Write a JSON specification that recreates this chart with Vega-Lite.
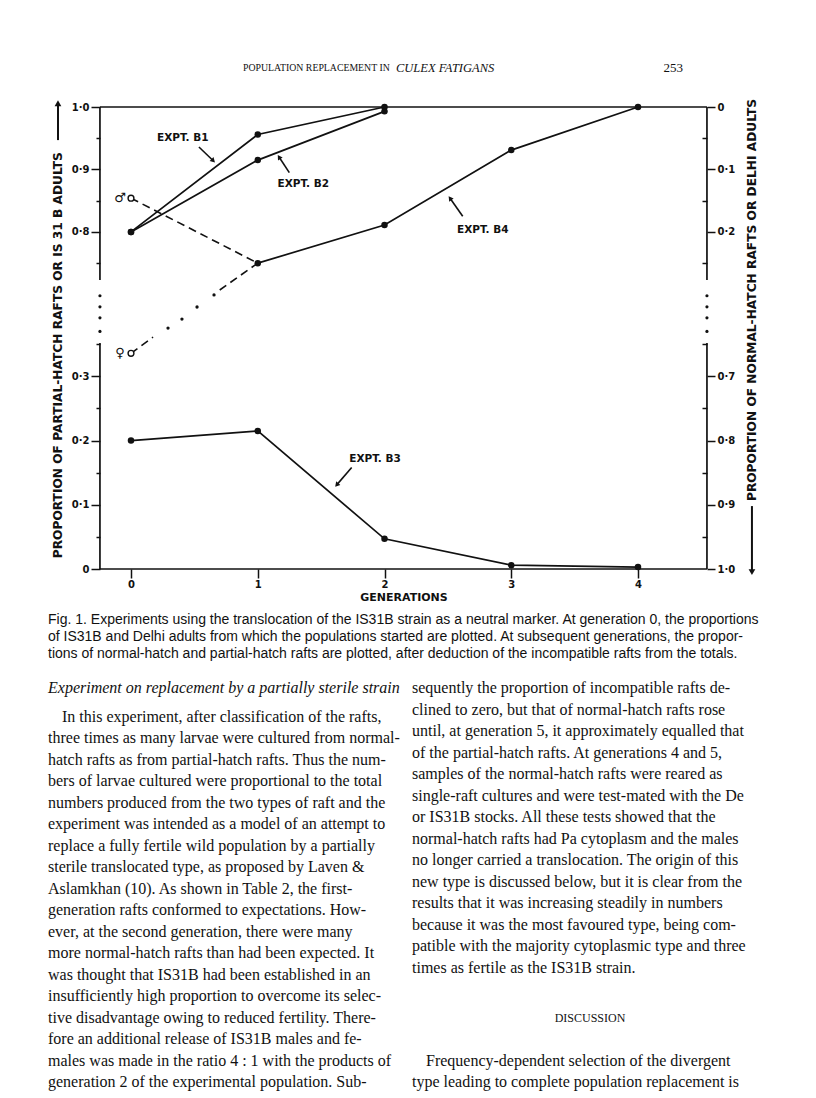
{
  "$schema": "https://vega.github.io/schema/vega-lite/v6.json",
  "width": 816,
  "height": 1098,
  "autosize": {"type": "none"},
  "padding": 0,
  "background": "white",
  "config": {"view": {"stroke": null}, "font": "DejaVu Sans"},
  "datasets": {
    "expts": [
      {"series": "EXPT. B1", "gen": 0, "prop": 0.8},
      {"series": "EXPT. B1", "gen": 1, "prop": 0.956},
      {"series": "EXPT. B1", "gen": 2, "prop": 1.0},
      {"series": "EXPT. B2", "gen": 0, "prop": 0.8},
      {"series": "EXPT. B2", "gen": 1, "prop": 0.915},
      {"series": "EXPT. B2", "gen": 2, "prop": 0.993},
      {"series": "EXPT. B4", "gen": 1, "prop": 0.75},
      {"series": "EXPT. B4", "gen": 2, "prop": 0.811},
      {"series": "EXPT. B4", "gen": 3, "prop": 0.931},
      {"series": "EXPT. B4", "gen": 4, "prop": 1.0},
      {"series": "EXPT. B3", "gen": 0, "prop": 0.2},
      {"series": "EXPT. B3", "gen": 1, "prop": 0.215},
      {"series": "EXPT. B3", "gen": 2, "prop": 0.047},
      {"series": "EXPT. B3", "gen": 3, "prop": 0.006},
      {"series": "EXPT. B3", "gen": 4, "prop": 0.003}
    ],
    "links": [
      {"series": "male", "gen": 0, "prop": 0.854},
      {"series": "male", "gen": 1, "prop": 0.75},
      {"series": "female a", "gen": 0, "prop": 0.336},
      {"series": "female a", "gen": 0.174, "prop": 0.387},
      {"series": "female b", "gen": 0.7, "prop": 0.664},
      {"series": "female b", "gen": 1, "prop": 0.75}
    ],
    "femaleDots": [
      {"gen": 0.292, "prop": 0.44},
      {"gen": 0.402, "prop": 0.493},
      {"gen": 0.521, "prop": 0.564},
      {"gen": 0.655, "prop": 0.635}
    ],
    "adults": [
      {"sex": "♂", "gen": 0, "prop": 0.854},
      {"sex": "♀", "gen": 0, "prop": 0.336}
    ],
    "frame": [
      {"part": "top", "g1": -0.245, "g2": 4.544, "p1": 1, "p2": 1},
      {"part": "bottom", "g1": -0.245, "g2": 4.544, "p1": 0, "p2": 0},
      {"part": "left lower", "g1": -0.245, "g2": -0.245, "p1": 0, "p2": 0.352},
      {"part": "left upper", "g1": -0.245, "g2": -0.245, "p1": 0.723, "p2": 1},
      {"part": "right lower", "g1": 4.544, "g2": 4.544, "p1": 0, "p2": 0.352},
      {"part": "right upper", "g1": 4.544, "g2": 4.544, "p1": 0.723, "p2": 1}
    ],
    "breaks": [
      {"gen": -0.245, "prop": 0.63}, {"gen": -0.245, "prop": 0.565},
      {"gen": -0.245, "prop": 0.5}, {"gen": -0.245, "prop": 0.42},
      {"gen": 4.544, "prop": 0.63}, {"gen": 4.544, "prop": 0.565},
      {"gen": 4.544, "prop": 0.5}, {"gen": 4.544, "prop": 0.42}
    ],
    "notes": [
      {"label": "EXPT. B1", "gen": 0.408, "prop": 0.951, "g1": 0.536, "p1": 0.936, "g2": 0.649, "p2": 0.914},
      {"label": "EXPT. B2", "gen": 1.359, "prop": 0.877, "g1": 1.249, "p1": 0.895, "g2": 1.168, "p2": 0.92},
      {"label": "EXPT. B4", "gen": 2.775, "prop": 0.803, "g1": 2.617, "p1": 0.825, "g2": 2.517, "p2": 0.854},
      {"label": "EXPT. B3", "gen": 1.925, "prop": 0.171, "g1": 1.741, "p1": 0.158, "g2": 1.623, "p2": 0.131}
    ],
    "titles": [
      {"side": "left", "gen": -0.576, "prop": 0.333, "text": "PROPORTION OF PARTIAL-HATCH RAFTS OR IS 31 B ADULTS", "g1": -0.576, "p1": 0.947, "g2": -0.576, "p2": 1.006},
      {"side": "right", "gen": 4.899, "prop": 0.605, "text": "PROPORTION OF NORMAL-HATCH RAFTS OR DELHI ADULTS", "g1": 4.899, "p1": 0.098, "g2": 4.899, "p2": -0.005},
      {"side": "bottom", "gen": 2.154, "prop": -0.045, "text": "GENERATIONS"}
    ],
    "header": [
      {"piece": 0, "row": 0, "text": "POPULATION REPLACEMENT IN"},
      {"piece": 1, "row": 0, "text": "CULEX FATIGANS"},
      {"piece": 2, "row": 0, "text": "253"}
    ],
    "caption": [
      {"col": 0, "line": 0, "text": "Fig. 1. Experiments using the translocation of the IS31B strain as a neutral marker. At generation 0, the proportions"},
      {"col": 0, "line": 1, "text": "of IS31B and Delhi adults from which the populations started are plotted. At subsequent generations, the propor-"},
      {"col": 0, "line": 2, "text": "tions of normal-hatch and partial-hatch rafts are plotted, after deduction of the incompatible rafts from the totals."}
    ],
    "body": [
      {"col": 0, "line": 0, "kind": "heading", "text": "Experiment on replacement by a partially sterile strain"},
      {"col": 0, "line": 1.33, "kind": "para", "text": "In this experiment, after classification of the rafts,"},
      {"col": 0, "line": 2.33, "kind": "text", "text": "three times as many larvae were cultured from normal-"},
      {"col": 0, "line": 3.33, "kind": "text", "text": "hatch rafts as from partial-hatch rafts. Thus the num-"},
      {"col": 0, "line": 4.33, "kind": "text", "text": "bers of larvae cultured were proportional to the total"},
      {"col": 0, "line": 5.33, "kind": "text", "text": "numbers produced from the two types of raft and the"},
      {"col": 0, "line": 6.33, "kind": "text", "text": "experiment was intended as a model of an attempt to"},
      {"col": 0, "line": 7.33, "kind": "text", "text": "replace a fully fertile wild population by a partially"},
      {"col": 0, "line": 8.33, "kind": "text", "text": "sterile translocated type, as proposed by Laven &"},
      {"col": 0, "line": 9.33, "kind": "text", "text": "Aslamkhan (10). As shown in Table 2, the first-"},
      {"col": 0, "line": 10.33, "kind": "text", "text": "generation rafts conformed to expectations. How-"},
      {"col": 0, "line": 11.33, "kind": "text", "text": "ever, at the second generation, there were many"},
      {"col": 0, "line": 12.33, "kind": "text", "text": "more normal-hatch rafts than had been expected. It"},
      {"col": 0, "line": 13.33, "kind": "text", "text": "was thought that IS31B had been established in an"},
      {"col": 0, "line": 14.33, "kind": "text", "text": "insufficiently high proportion to overcome its selec-"},
      {"col": 0, "line": 15.33, "kind": "text", "text": "tive disadvantage owing to reduced fertility. There-"},
      {"col": 0, "line": 16.33, "kind": "text", "text": "fore an additional release of IS31B males and fe-"},
      {"col": 0, "line": 17.33, "kind": "text", "text": "males was made in the ratio 4 : 1 with the products of"},
      {"col": 0, "line": 18.33, "kind": "text", "text": "generation 2 of the experimental population. Sub-"},
      {"col": 1, "line": 0, "kind": "text", "text": "sequently the proportion of incompatible rafts de-"},
      {"col": 1, "line": 1, "kind": "text", "text": "clined to zero, but that of normal-hatch rafts rose"},
      {"col": 1, "line": 2, "kind": "text", "text": "until, at generation 5, it approximately equalled that"},
      {"col": 1, "line": 3, "kind": "text", "text": "of the partial-hatch rafts. At generations 4 and 5,"},
      {"col": 1, "line": 4, "kind": "text", "text": "samples of the normal-hatch rafts were reared as"},
      {"col": 1, "line": 5, "kind": "text", "text": "single-raft cultures and were test-mated with the De"},
      {"col": 1, "line": 6, "kind": "text", "text": "or IS31B stocks. All these tests showed that the"},
      {"col": 1, "line": 7, "kind": "text", "text": "normal-hatch rafts had Pa cytoplasm and the males"},
      {"col": 1, "line": 8, "kind": "text", "text": "no longer carried a translocation. The origin of this"},
      {"col": 1, "line": 9, "kind": "text", "text": "new type is discussed below, but it is clear from the"},
      {"col": 1, "line": 10, "kind": "text", "text": "results that it was increasing steadily in numbers"},
      {"col": 1, "line": 11, "kind": "text", "text": "because it was the most favoured type, being com-"},
      {"col": 1, "line": 12, "kind": "text", "text": "patible with the majority cytoplasmic type and three"},
      {"col": 1, "line": 13, "kind": "text", "text": "times as fertile as the IS31B strain."},
      {"col": 1.5, "line": 15.35, "kind": "section", "text": "DISCUSSION"},
      {"col": 1, "line": 17.33, "kind": "para", "text": "Frequency-dependent selection of the divergent"},
      {"col": 1, "line": 18.33, "kind": "text", "text": "type leading to complete population replacement is"}
    ]
  },
  "layer": [
    {
      "layer": [
        {
          "data": {"name": "frame"},
          "mark": {"type": "rule", "stroke": "#111", "strokeWidth": 1.7},
          "encoding": {
            "x": {"field": "g1", "type": "quantitative", "scale": {"domain": [0, 4], "range": [131, 638], "nice": false, "zero": false},
              "axis": {"orient": "bottom", "offset": -529, "domain": false, "grid": false, "values": [0, 1, 2, 3, 4], "tickSize": 9, "tickWidth": 1.5, "tickColor": "#111", "labelFont": "DejaVu Sans", "labelFontSize": 10, "labelFontWeight": "bold", "labelColor": "#111", "labelPadding": 1, "labelFlush": false, "labelOverlap": false, "title": null}},
            "x2": {"field": "g2"},
            "y": {"field": "p1", "type": "quantitative", "scale": {"domain": [0, 0.352, 0.723, 1], "range": [569, 343, 280, 107], "nice": false, "zero": false},
              "axis": {"orient": "left", "offset": -100, "domain": false, "grid": false,
                "values": [0, 0.05, 0.1, 0.15, 0.2, 0.25, 0.3, 0.35, 0.75, 0.8, 0.85, 0.9, 0.95, 1],
                "tickSize": {"condition": {"test": "round(datum.value*100) % 10 != 0", "value": 4}, "value": 9},
                "tickWidth": 1.5, "tickColor": "#111",
                "labelExpr": "round(datum.value*100) % 10 != 0 ? '' : (datum.value == 0 ? '0' : replace(format(datum.value, '.1f'), '.', '·'))",
                "labelFont": "DejaVu Sans", "labelFontSize": 10, "labelFontWeight": "bold", "labelColor": "#111", "labelPadding": 2, "labelFlush": false, "labelOverlap": false, "title": null}},
            "y2": {"field": "p2"}
          }
        },
        {
          "data": {"name": "breaks"},
          "mark": {"type": "circle", "color": "#111", "opacity": 1, "size": 10},
          "encoding": {
            "x": {"field": "gen", "type": "quantitative", "scale": {"domain": [0, 4], "range": [131, 638], "nice": false, "zero": false}, "axis": null},
            "y": {"field": "prop", "type": "quantitative", "scale": {"domain": [0, 0.352, 0.723, 1], "range": [569, 343, 280, 107], "nice": false, "zero": false},
              "axis": {"orient": "right", "offset": -109, "domain": false, "grid": false,
                "values": [0, 0.05, 0.1, 0.15, 0.2, 0.25, 0.3, 0.35, 0.75, 0.8, 0.85, 0.9, 0.95, 1],
                "tickSize": {"condition": {"test": "round(datum.value*100) % 10 != 0", "value": -5}, "value": 8},
                "tickWidth": 1.5, "tickColor": "#111",
                "labelExpr": "round(datum.value*100) % 10 != 0 ? '' : (datum.value == 1 ? '0' : replace(format(1 - datum.value, '.1f'), '.', '·'))",
                "labelFont": "DejaVu Sans", "labelFontSize": 10, "labelFontWeight": "bold", "labelColor": "#111", "labelPadding": 2, "labelFlush": false, "labelOverlap": false, "title": null}}
          }
        },
        {
          "data": {"name": "expts"},
          "mark": {"type": "line", "stroke": "#111", "strokeWidth": 1.7},
          "encoding": {
            "x": {"field": "gen", "type": "quantitative", "scale": {"domain": [0, 4], "range": [131, 638], "nice": false, "zero": false}, "axis": null},
            "y": {"field": "prop", "type": "quantitative", "scale": {"domain": [0, 0.352, 0.723, 1], "range": [569, 343, 280, 107], "nice": false, "zero": false}, "axis": null},
            "detail": {"field": "series"}
          }
        },
        {
          "data": {"name": "links"},
          "mark": {"type": "line", "stroke": "#111", "strokeWidth": 1.6, "strokeDash": [8, 5]},
          "encoding": {
            "x": {"field": "gen", "type": "quantitative", "scale": {"domain": [0, 4], "range": [131, 638], "nice": false, "zero": false}, "axis": null},
            "y": {"field": "prop", "type": "quantitative", "scale": {"domain": [0, 0.352, 0.723, 1], "range": [569, 343, 280, 107], "nice": false, "zero": false}, "axis": null},
            "detail": {"field": "series"}
          }
        },
        {
          "data": {"name": "expts"},
          "mark": {"type": "circle", "color": "#111", "opacity": 1, "size": 42},
          "encoding": {
            "x": {"field": "gen", "type": "quantitative", "scale": {"domain": [0, 4], "range": [131, 638], "nice": false, "zero": false}, "axis": null},
            "y": {"field": "prop", "type": "quantitative", "scale": {"domain": [0, 0.352, 0.723, 1], "range": [569, 343, 280, 107], "nice": false, "zero": false}, "axis": null}
          }
        },
        {
          "data": {"name": "femaleDots"},
          "mark": {"type": "circle", "color": "#111", "opacity": 1, "size": 11},
          "encoding": {
            "x": {"field": "gen", "type": "quantitative", "scale": {"domain": [0, 4], "range": [131, 638], "nice": false, "zero": false}, "axis": null},
            "y": {"field": "prop", "type": "quantitative", "scale": {"domain": [0, 0.352, 0.723, 1], "range": [569, 343, 280, 107], "nice": false, "zero": false}, "axis": null}
          }
        },
        {
          "data": {"name": "adults"},
          "mark": {"type": "point", "shape": "circle", "filled": false, "fill": "white", "fillOpacity": 1, "stroke": "#111", "strokeWidth": 1.4, "opacity": 1, "size": 34},
          "encoding": {
            "x": {"field": "gen", "type": "quantitative", "scale": {"domain": [0, 4], "range": [131, 638], "nice": false, "zero": false}, "axis": null},
            "y": {"field": "prop", "type": "quantitative", "scale": {"domain": [0, 0.352, 0.723, 1], "range": [569, 343, 280, 107], "nice": false, "zero": false}, "axis": null}
          }
        },
        {
          "data": {"name": "adults"},
          "mark": {"type": "text", "font": "DejaVu Sans", "fontSize": 13, "fontWeight": "bold", "color": "#111", "align": "center", "baseline": "middle", "dx": -11},
          "encoding": {
            "x": {"field": "gen", "type": "quantitative", "scale": {"domain": [0, 4], "range": [131, 638], "nice": false, "zero": false}, "axis": null},
            "y": {"field": "prop", "type": "quantitative", "scale": {"domain": [0, 0.352, 0.723, 1], "range": [569, 343, 280, 107], "nice": false, "zero": false}, "axis": null},
            "text": {"field": "sex"}
          }
        },
        {
          "data": {"name": "notes"},
          "mark": {"type": "text", "font": "DejaVu Sans", "fontSize": 10.5, "fontWeight": "bold", "color": "#111", "align": "center", "baseline": "middle"},
          "encoding": {
            "x": {"field": "gen", "type": "quantitative", "scale": {"domain": [0, 4], "range": [131, 638], "nice": false, "zero": false}, "axis": null},
            "y": {"field": "prop", "type": "quantitative", "scale": {"domain": [0, 0.352, 0.723, 1], "range": [569, 343, 280, 107], "nice": false, "zero": false}, "axis": null},
            "text": {"field": "label"}
          }
        },
        {
          "data": {"name": "notes"},
          "mark": {"type": "rule", "stroke": "#111", "strokeWidth": 1.6},
          "encoding": {
            "x": {"field": "g1", "type": "quantitative", "scale": {"domain": [0, 4], "range": [131, 638], "nice": false, "zero": false}, "axis": null},
            "x2": {"field": "g2"},
            "y": {"field": "p1", "type": "quantitative", "scale": {"domain": [0, 0.352, 0.723, 1], "range": [569, 343, 280, 107], "nice": false, "zero": false}, "axis": null},
            "y2": {"field": "p2"}
          }
        },
        {
          "data": {"name": "notes"},
          "mark": {"type": "point", "shape": "triangle-up", "filled": true, "color": "#111", "opacity": 1, "size": 30},
          "encoding": {
            "x": {"field": "g2", "type": "quantitative", "scale": {"domain": [0, 4], "range": [131, 638], "nice": false, "zero": false}, "axis": null},
            "y": {"field": "p2", "type": "quantitative", "scale": {"domain": [0, 0.352, 0.723, 1], "range": [569, 343, 280, 107], "nice": false, "zero": false}, "axis": null},
            "angle": {"condition": [
              {"test": "datum.label == 'EXPT. B1'", "value": 135},
              {"test": "datum.label == 'EXPT. B2'", "value": 327},
              {"test": "datum.label == 'EXPT. B4'", "value": 324}
            ], "value": 221}
          }
        },
        {
          "data": {"name": "titles"},
          "mark": {"type": "text", "font": "DejaVu Sans", "fontSize": 12.2, "fontWeight": "bold", "color": "#111", "align": "center", "baseline": "middle", "angle": 270},
          "transform": [{"filter": "datum.side != 'bottom'"}],
          "encoding": {
            "x": {"field": "gen", "type": "quantitative", "scale": {"domain": [0, 4], "range": [131, 638], "nice": false, "zero": false}, "axis": null},
            "y": {"field": "prop", "type": "quantitative", "scale": {"domain": [0, 0.352, 0.723, 1], "range": [569, 343, 280, 107], "nice": false, "zero": false}, "axis": null},
            "text": {"field": "text"}
          }
        },
        {
          "data": {"name": "titles"},
          "mark": {"type": "text", "font": "DejaVu Sans", "fontSize": 11, "fontWeight": "bold", "color": "#111", "align": "center", "baseline": "middle"},
          "transform": [{"filter": "datum.side == 'bottom'"}],
          "encoding": {
            "x": {"field": "gen", "type": "quantitative", "scale": {"domain": [0, 4], "range": [131, 638], "nice": false, "zero": false}, "axis": null},
            "y": {"field": "prop", "type": "quantitative", "scale": {"domain": [0, 0.352, 0.723, 1], "range": [569, 343, 280, 107], "nice": false, "zero": false}, "axis": null},
            "text": {"field": "text"}
          }
        },
        {
          "data": {"name": "titles"},
          "mark": {"type": "rule", "stroke": "#111", "strokeWidth": 2},
          "transform": [{"filter": "datum.side != 'bottom'"}],
          "encoding": {
            "x": {"field": "g1", "type": "quantitative", "scale": {"domain": [0, 4], "range": [131, 638], "nice": false, "zero": false}, "axis": null},
            "x2": {"field": "g2"},
            "y": {"field": "p1", "type": "quantitative", "scale": {"domain": [0, 0.352, 0.723, 1], "range": [569, 343, 280, 107], "nice": false, "zero": false}, "axis": null},
            "y2": {"field": "p2"}
          }
        },
        {
          "data": {"name": "titles"},
          "mark": {"type": "point", "shape": "triangle-up", "filled": true, "color": "#111", "opacity": 1, "size": 45},
          "transform": [{"filter": "datum.side != 'bottom'"}],
          "encoding": {
            "x": {"field": "g2", "type": "quantitative", "scale": {"domain": [0, 4], "range": [131, 638], "nice": false, "zero": false}, "axis": null},
            "y": {"field": "p2", "type": "quantitative", "scale": {"domain": [0, 0.352, 0.723, 1], "range": [569, 343, 280, 107], "nice": false, "zero": false}, "axis": null},
            "angle": {"condition": {"test": "datum.side == 'left'", "value": 0}, "value": 180}
          }
        }
      ],
      "resolve": {"axis": {"x": "independent", "y": "independent"}}
    },
    {
      "data": {"name": "header"},
      "encoding": {
        "x": {"field": "piece", "type": "quantitative", "scale": {"domain": [0, 1, 2], "range": [243, 396, 683], "nice": false, "zero": false}, "axis": null},
        "y": {"field": "row", "type": "quantitative", "scale": {"domain": [0, 1], "range": [68, 90], "nice": false, "zero": false}, "axis": null},
        "text": {"field": "text"}
      },
      "layer": [
        {"transform": [{"filter": "datum.piece == 0"}], "mark": {"type": "text", "font": "Liberation Serif", "fontSize": 9.8, "color": "#111", "align": "left", "baseline": "middle"}},
        {"transform": [{"filter": "datum.piece == 1"}], "mark": {"type": "text", "font": "Liberation Serif", "fontSize": 12.5, "fontStyle": "italic", "color": "#111", "align": "left", "baseline": "middle"}},
        {"transform": [{"filter": "datum.piece == 2"}], "mark": {"type": "text", "font": "Liberation Serif", "fontSize": 13, "color": "#111", "align": "right", "baseline": "middle"}}
      ]
    },
    {
      "data": {"name": "caption"},
      "mark": {"type": "text", "font": "Liberation Sans", "fontSize": 14, "color": "#111", "align": "left", "baseline": "middle"},
      "encoding": {
        "x": {"field": "col", "type": "quantitative", "scale": {"domain": [0, 1], "range": [48, 768], "nice": false, "zero": false}, "axis": null},
        "y": {"field": "line", "type": "quantitative", "scale": {"domain": [0, 2], "range": [620, 654], "nice": false, "zero": false}, "axis": null},
        "text": {"field": "text"}
      }
    },
    {
      "data": {"name": "body"},
      "encoding": {
        "x": {"field": "col", "type": "quantitative", "scale": {"domain": [0, 1, 2], "range": [48, 412, 768], "nice": false, "zero": false}, "axis": null},
        "y": {"field": "line", "type": "quantitative", "scale": {"domain": [0, 1], "range": [688, 709.5], "nice": false, "zero": false}, "axis": null},
        "text": {"field": "text"}
      },
      "layer": [
        {"transform": [{"filter": "datum.kind == 'text'"}], "mark": {"type": "text", "font": "Liberation Serif", "fontSize": 16, "color": "#111", "align": "left", "baseline": "middle"}},
        {"transform": [{"filter": "datum.kind == 'para'"}], "mark": {"type": "text", "font": "Liberation Serif", "fontSize": 16, "color": "#111", "align": "left", "baseline": "middle", "dx": 14}},
        {"transform": [{"filter": "datum.kind == 'heading'"}], "mark": {"type": "text", "font": "Liberation Serif", "fontSize": 16, "fontStyle": "italic", "color": "#111", "align": "left", "baseline": "middle"}},
        {"transform": [{"filter": "datum.kind == 'section'"}], "mark": {"type": "text", "font": "Liberation Serif", "fontSize": 12, "color": "#111", "align": "center", "baseline": "middle"}}
      ]
    }
  ],
  "resolve": {"scale": {"x": "independent", "y": "independent"}}
}
